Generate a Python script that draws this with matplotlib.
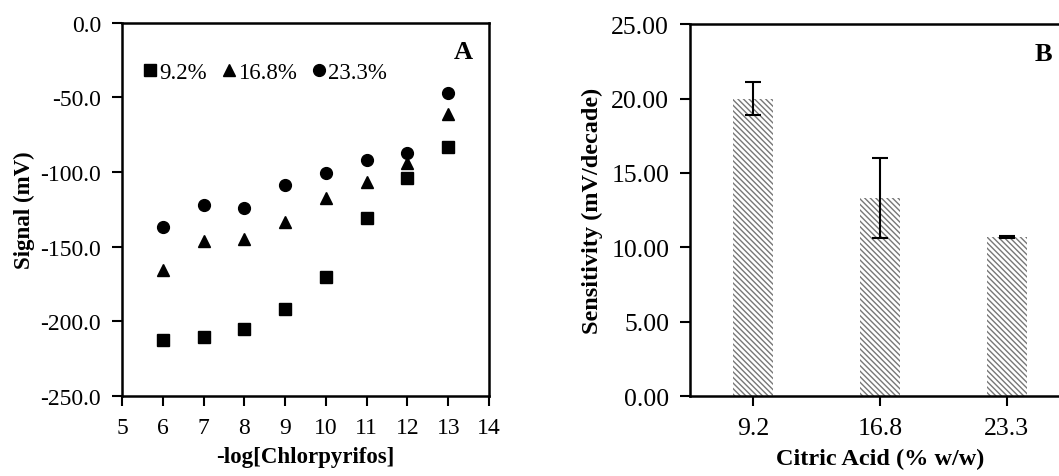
import matplotlib
matplotlib.use('Agg')
import matplotlib.pyplot as plt
import numpy as np

plt.rcParams['font.family'] = ['Liberation Serif', 'DejaVu Serif']
plt.rcParams['hatch.linewidth'] = 1.0

# panel A data
log_conc = [6, 7, 8, 9, 10, 11, 12, 13]
sig_92 = [-212.5, -210.5, -205.0, -192.0, -170.5, -131.0, -104.0, -83.5]
sig_168 = [-165.5, -146.5, -145.0, -133.5, -117.5, -106.5, -94.0, -61.5]
sig_233 = [-137.0, -122.0, -124.0, -109.0, -101.0, -92.0, -87.5, -47.0]

# panel B data
citric = ['9.2', '16.8', '23.3']
sensitivity = [20.0, 13.3, 10.7]
sens_err = [1.1, 2.7, 0.05]

fig = plt.figure(figsize=(10.59, 4.77), dpi=100)

# ---- A ----
ax = fig.add_axes([0.1152, 0.1677, 0.3466, 0.783])
ax.plot(log_conc, sig_92, 's', color='black', markersize=8.5, label='9.2%')
ax.plot(log_conc, sig_168, '^', color='black', markersize=8.5, label='16.8%')
ax.plot(log_conc, sig_233, 'o', color='black', markersize=8.5, label='23.3%')
ax.set_xlim(5, 14)
ax.set_ylim(-250, 0)
ax.set_xticks(range(5, 15))
ax.set_yticks(np.arange(-250, 1, 50))
ax.set_yticklabels(['%.1f' % v for v in np.arange(-250, 1, 50)])
ax.tick_params(direction='out', length=7, width=1.5, labelsize=17, pad=8)
for s in ax.spines.values():
    s.set_linewidth(1.8)
ax.set_xlabel('-log[Chlorpyrifos]', fontsize=16.5, fontweight='bold', labelpad=6)
ax.set_ylabel('Signal (mV)', fontsize=16.5, fontweight='bold', labelpad=4)
ax.legend(loc='upper left', ncol=3, frameon=False, fontsize=16.5,
          handletextpad=-0.2, columnspacing=0.35, handlelength=1.2,
          bbox_to_anchor=(0.015, 0.92), borderaxespad=0)
ax.text(0.929, 0.922, 'A', transform=ax.transAxes, fontsize=19,
        fontweight='bold', ha='center', va='center')

# ---- B ----
bx = fig.add_axes([0.6516, 0.167, 0.3588, 0.7805])
pos = np.arange(len(citric))
bx.bar(pos, sensitivity, width=0.315, color='white', edgecolor='#777777',
       linewidth=0, hatch='\\' * 6)
bx.errorbar(pos, sensitivity, yerr=sens_err, fmt='none', ecolor='black',
            elinewidth=1.5, capsize=5.5, capthick=1.5)
bx.set_xlim(-0.5, 2.5)
bx.set_ylim(0, 25)
bx.set_xticks(pos)
bx.set_xticklabels(citric)
bx.set_yticks(np.arange(0, 26, 5))
bx.set_yticklabels(['%.2f' % v for v in np.arange(0, 26, 5)])
bx.tick_params(direction='out', length=7, width=1.5, labelsize=18.5, pad=8)
for s in bx.spines.values():
    s.set_linewidth(1.8)
bx.set_xlabel('Citric Acid (% w/w)', fontsize=17.5, fontweight='bold', labelpad=6)
bx.set_ylabel('Sensitivity (mV/decade)', fontsize=17.5, fontweight='bold', labelpad=6)
bx.text(0.929, 0.922, 'B', transform=bx.transAxes, fontsize=19,
        fontweight='bold', ha='center', va='center')

fig.savefig('out.png', dpi=100)
